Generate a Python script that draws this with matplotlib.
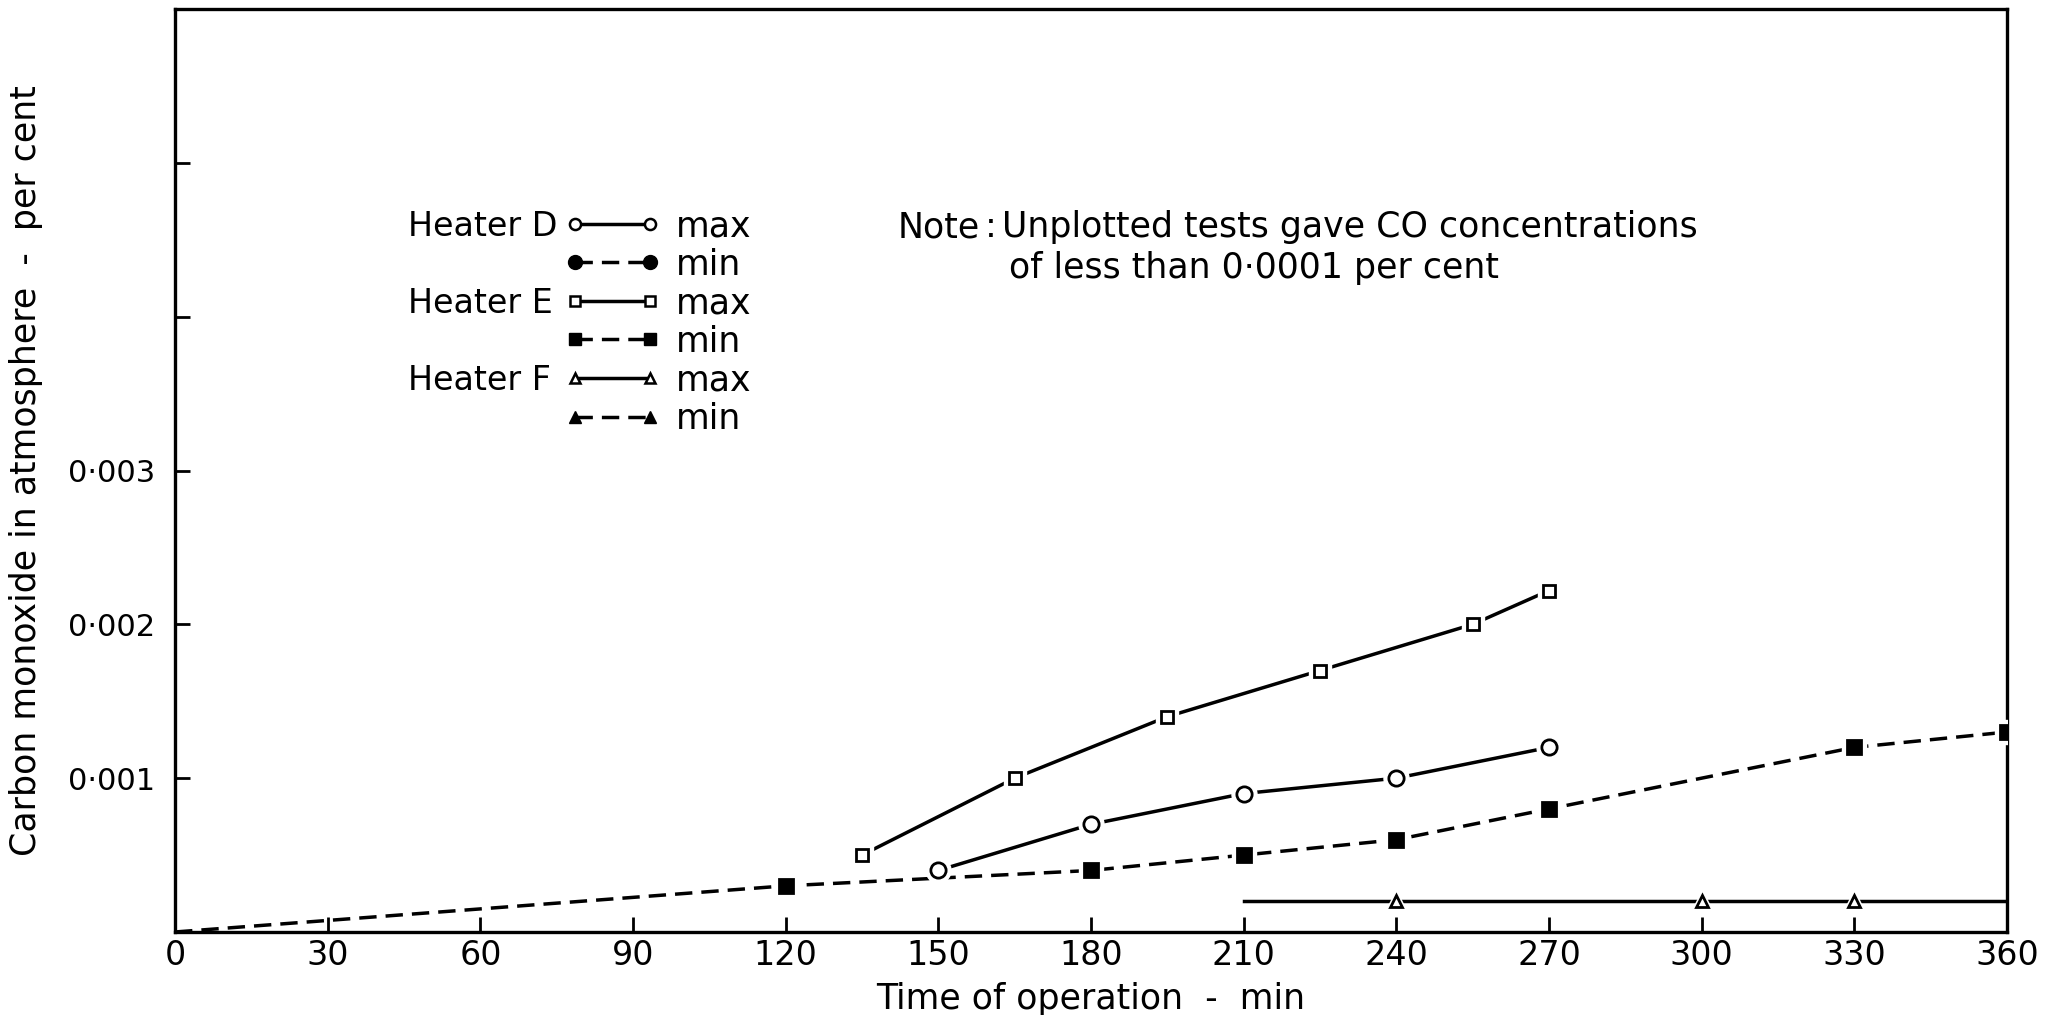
import matplotlib
matplotlib.use("Agg")
import matplotlib.pyplot as plt
from matplotlib.lines import Line2D

plt.rcParams['font.family'] = ['DejaVu Sans']

# tempo de operacao (min) e CO na atmosfera (por cento)
t_d_max = [150, 180, 210, 240, 270]
co_d_max = [0.0004, 0.0007, 0.0009, 0.001, 0.0012]

t_e_max = [135, 165, 195, 225, 255, 270]
co_e_max = [0.0005, 0.001, 0.0014, 0.0017, 0.002, 0.00222]

t_e_min = [0, 120, 180, 210, 240, 270, 330, 360]
co_e_min = [0.0, 0.0003, 0.0004, 0.0005, 0.0006, 0.0008, 0.0012, 0.0013]

t_f_max = [210, 240, 300, 330, 360]
co_f_max = [0.0002, 0.0002, 0.0002, 0.0002, 0.0002]

x_ticks = list(range(0, 361, 30))
y_ticks = [0.001, 0.002, 0.003, 0.004, 0.005]
y_labels = ['0\u00b7001', '0\u00b7002', '0\u00b7003', '', '']

TRACO = (0, (5, 2.6))
FS = 24
LW = 2.5

fig = plt.figure(figsize=(20.62, 10.15), dpi=100)
ax = fig.add_axes([0.0849, 0.0818, 0.8884, 0.9092])


def serie(t, co, marker, ms, cheio, ls, marcar):
    ax.plot(t, co, color='k', lw=LW, ls=ls, zorder=2)
    tm = [t[i] for i in marcar]
    cm = [co[i] for i in marcar]
    # fundo branco em volta do marcador para cortar a linha
    ax.plot(tm, cm, ls='none', marker=marker, ms=ms + 7, mfc='white',
            mec='white', zorder=3)
    ax.plot(tm, cm, ls='none', marker=marker, ms=ms,
            mfc='k' if cheio else 'white', mec='k', mew=2, zorder=4)


serie(t_e_max, co_e_max, 's', 9, False, '-', range(len(t_e_max)))
serie(t_d_max, co_d_max, 'o', 11, False, '-', range(len(t_d_max)))
serie(t_e_min, co_e_min, 's', 10, True, TRACO, range(1, len(t_e_min)))
serie(t_f_max, co_f_max, '^', 9, False, '-', [1, 2, 3])

ax.set_xlim(0, 360)
ax.set_ylim(0, 0.006)
ax.set_xticks(x_ticks)
ax.set_xticklabels([str(v) for v in x_ticks])
ax.set_yticks(y_ticks)
ax.set_yticklabels(y_labels)
ax.tick_params(axis='both', direction='in', length=11, width=2)
ax.tick_params(axis='x', pad=5, labelsize=FS)
ax.tick_params(axis='y', pad=14, labelsize=22)
for s in ax.spines.values():
    s.set_linewidth(2.4)

ax.set_xlabel('Time of operation  -  min', fontsize=25, labelpad=7)
ax.set_ylabel('Carbon monoxide in atmosphere  -  per cent', fontsize=25, labelpad=18)

# legenda: marcador, linha, marcador + max/min
handles = [
    Line2D([], [], color='k', lw=LW, ls='-', marker='o', ms=8, mfc='white', mec='k', mew=1.8),
    Line2D([], [], color='k', lw=LW, ls=TRACO, marker='o', ms=10, mfc='k', mec='k'),
    Line2D([], [], color='k', lw=LW, ls='-', marker='s', ms=7, mfc='white', mec='k', mew=1.8),
    Line2D([], [], color='k', lw=LW, ls=TRACO, marker='s', ms=8, mfc='k', mec='k'),
    Line2D([], [], color='k', lw=LW, ls='-', marker='^', ms=7, mfc='white', mec='k', mew=1.8),
    Line2D([], [], color='k', lw=LW, ls=TRACO, marker='^', ms=8, mfc='k', mec='k'),
]
rotulos = ['max', 'min', 'max', 'min', 'max', 'min']
leg = ax.legend(handles, rotulos, loc='upper left', bbox_to_anchor=(0.274, 0.794),
                bbox_transform=fig.transFigure, frameon=False, fontsize=25,
                numpoints=2, handlelength=2.75, handletextpad=0.45,
                labelspacing=0.13, borderpad=0, borderaxespad=0)

# nomes dos aquecedores alinhados com as linhas max da legenda
textos = leg.get_texts()
for nome, i in [('Heater D', 0), ('Heater E', 2), ('Heater F', 4)]:
    ax.annotate(nome, xy=(0.1979, 0.5), xycoords=('figure fraction', textos[i]),
                ha='left', va='center', fontsize=FS, zorder=10)

fig.text(0.4355, 0.776, 'Note', fontsize=25, va='center', ha='left')
fig.text(0.4775, 0.776, ':', fontsize=25, va='center', ha='left')
fig.text(0.486, 0.776, 'Unplotted tests gave CO concentrations', fontsize=25,
         va='center', ha='left')
fig.text(0.4895, 0.736, 'of less than 0\u00b70001 per cent', fontsize=25,
         va='center', ha='left')

fig.savefig('out.png', dpi=100)
